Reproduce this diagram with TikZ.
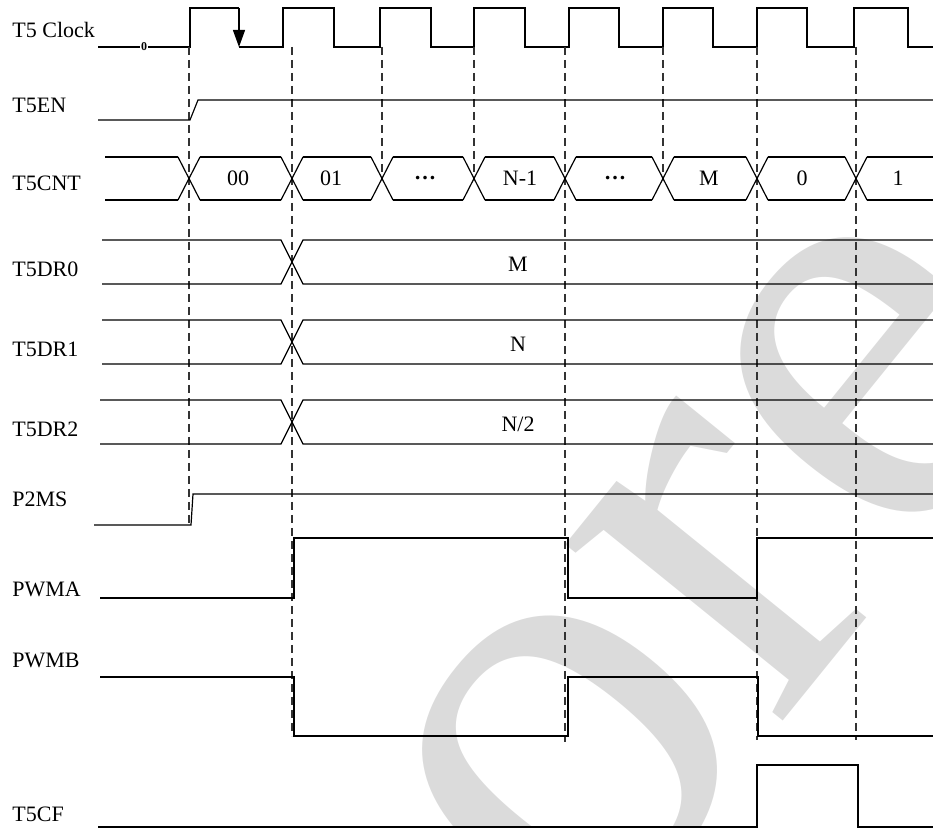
\documentclass[tikz,border=0pt]{standalone}
\usepackage{fontspec}
\setmainfont{Liberation Serif}
\usetikzlibrary{arrows.meta}

\begin{document}
\begin{tikzpicture}[x=0.5pt,y=-0.5pt,
	sig/.style={line width=0.6pt},
	guide/.style={dash pattern=on 4pt off 2.5pt,line width=0.6pt,black!80},
	lbl/.style={anchor=base west,inner sep=0pt,font=\fontsize{11}{13}\selectfont},
	val/.style={inner sep=0pt,font=\fontsize{11}{13}\selectfont}]
	\useasboundingbox (0,0) rectangle (933,828);
	\node[rotate=51,text=black!14,font=\fontsize{305}{305}\selectfont] (wmark) at (719,576) {ore};

	\node[lbl] (clk) at (12,38) {T5 Clock};
	\node[lbl] (en) at (12,113) {T5EN};
	\node[lbl] (cnt) at (12,191) {T5CNT};
	\node[lbl] (dra) at (12,277) {T5DR0};
	\node[lbl] (drb) at (12,357) {T5DR1};
	\node[lbl] (drc) at (12,437) {T5DR2};
	\node[lbl] (ms) at (12,507) {P2MS};
	\node[lbl] (pwa) at (12,597) {PWMA};
	\node[lbl] (pwb) at (12,668) {PWMB};
	\node[lbl] (cf) at (12,822) {T5CF};

	% clock
	\draw[sig] (98,47) -- (190,47) -- (190,8) -- (239,8);
	\draw[sig,-{Triangle[length=8.5pt,width=6pt]}] (239,8) -- (239,47);
	\draw[sig] (239,47) foreach \r/\f in {283/334,380/431,474/525,569/619,663/713,757/807,854/908} {-- (\r,47) -- (\r,8) -- (\f,8) -- (\f,47)} -- (933,47);
	\node[fill=white,inner sep=0.4pt,font=\fontsize{6}{6}\selectfont\bfseries] (zero) at (144,47) {0};

	\foreach \x/\e in {189/525,292/736,382/180,474/180,565/742,663/180,757/740,856/740}
		\draw[guide] (\x,47) -- (\x,\e);

	\draw[sig] (98,120) -- (190,120) -- (198,100) -- (933,100);

	% counter bus
	\foreach \a/\b in {94/189,189/292,292/382,382/474,474/565,565/663,663/757,757/856,856/944}
		\draw[sig] (\a+11,157) -- (\b-11,157) (\a+11,200) -- (\b-11,200);
	\foreach \c in {189,292,382,474,565,663,757,856}
		\draw[sig] (\c-11,157) -- (\c+11,200) (\c-11,200) -- (\c+11,157);
	\foreach \x/\t [count=\i] in {238/00,331/01,425/{\bfseries …},520/N-1,615/{\bfseries …},709/M,802/0,898/1}
		\node[val] (v\i) at (\x,178) {\t};

	\draw[sig] (102,240) -- (281,240) -- (303,284) -- (933,284) (102,284) -- (281,284) -- (303,240) -- (933,240);
	\node[val] (ma) at (518,264) {M};
	\draw[sig] (102,320) -- (281,320) -- (303,364) -- (933,364) (102,364) -- (281,364) -- (303,320) -- (933,320);
	\node[val] (na) at (518,344) {N};
	\draw[sig] (100,400) -- (281,400) -- (303,444) -- (933,444) (100,444) -- (281,444) -- (303,400) -- (933,400);
	\node[val] (nb) at (518,424) {N/2};

	\draw[sig] (94,525) -- (191,525) -- (193,494) -- (933,494);
	\draw[sig] (100,598) -- (294,598) -- (294,538) -- (568,538) -- (568,598) -- (757,598) -- (757,538) -- (933,538);
	\draw[sig] (100,677) -- (294,677) -- (294,736) -- (568,736) -- (568,677) -- (758,677) -- (758,736) -- (933,736);
	\draw[sig] (98,827) -- (757,827) -- (757,765) -- (858,765) -- (858,827) -- (933,827);
\end{tikzpicture}
\end{document}
